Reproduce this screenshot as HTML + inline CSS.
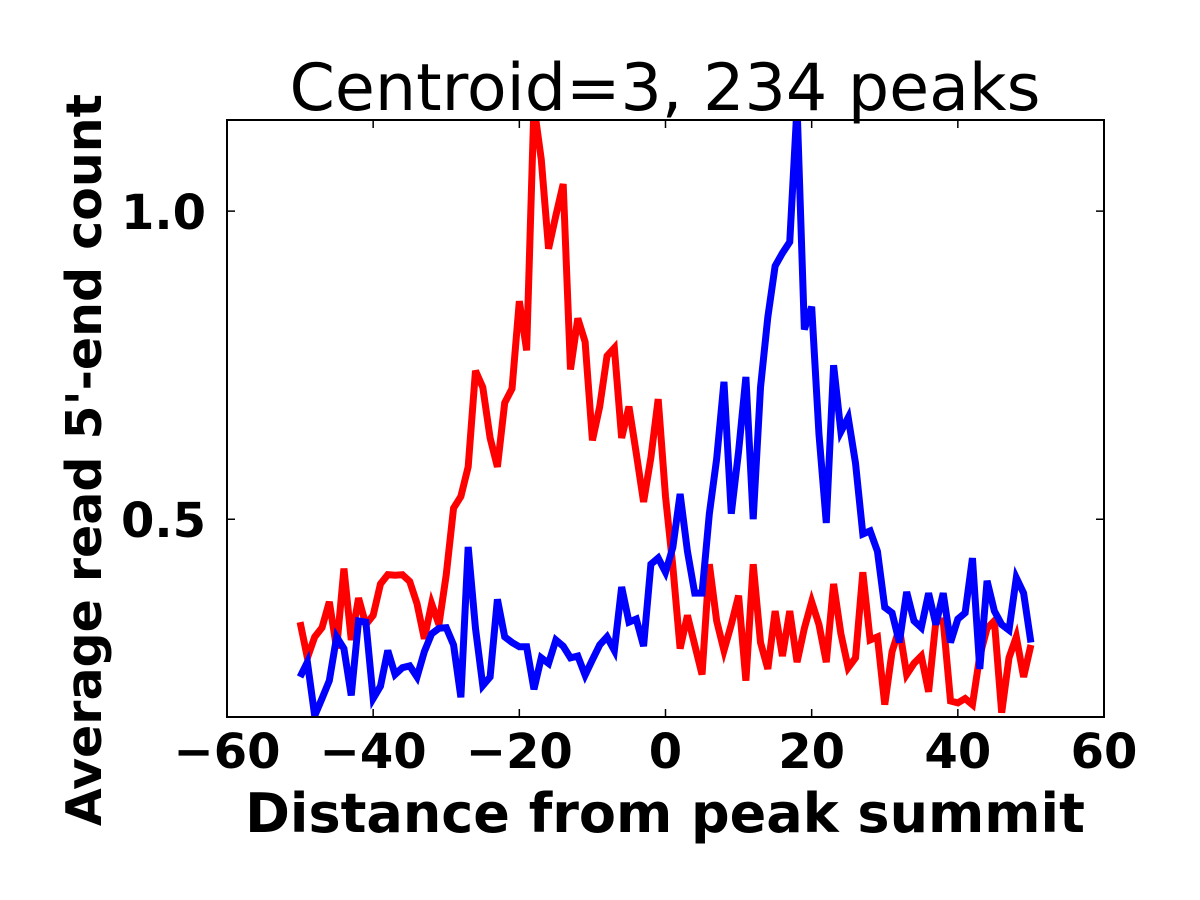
<!DOCTYPE html>
<html><head><meta charset="utf-8"><style>html,body{margin:0;padding:0;background:#fff;}svg{display:block;}</style></head>
<body>
<svg id="chart" width="1200" height="900" xmlns="http://www.w3.org/2000/svg" font-family="'DejaVu Sans', 'Liberation Sans', sans-serif">
<rect width="1200" height="900" fill="#fff"/>
<defs><clipPath id="clip"><rect x="227" y="120" width="877" height="597"/></clipPath></defs>
<text x="665" y="110" font-size="65" text-anchor="middle">Centroid=3, 234 peaks</text>
<g id="series" clip-path="url(#clip)"></g>
<rect x="227" y="120" width="877" height="597" fill="none" stroke="#000" stroke-width="2"/>
<g id="ticks"></g>
<text x="665" y="832" font-size="54" font-weight="bold" text-anchor="middle">Distance from peak summit</text>
<text transform="translate(101,460) rotate(-90)" font-size="49" font-weight="bold" text-anchor="middle">Average read 5'-end count</text>
</svg>
<script>
const xTicks = [-60, -40, -20, 0, 20, 40, 60];
const xTickLabels = ["\u221260", "\u221240", "\u221220", "0", "20", "40", "60"];
const yTicks = [0.5, 1.0];
const yTickLabels = ["0.5", "1.0"];
const positions = Array.from({length: 101}, (_, i) => i - 50);
const redValues = [.333,.275,.309,.324,.366,.290,.420,.304,.372,.329,.344,.395,.410,.409,.410,.399,.363,.306,.363,.329,.410,.518,.537,.585,.741,.714,.632,.585,.689,.712,.854,.774,1.171,1.084,.939,.993,1.044,.743,.826,.788,.628,.683,.765,.778,.632,.683,.607,.528,.600,.695,
.537,.424,.290,.344,.296,.248,.427,.335,.287,.329,.376,.238,.427,.300,.257,.351,.278,.351,.268,.323,.366,.329,.268,.395,.314,.259,.275,.414,.304,.309,.199,.285,.323,.248,.266,.278,.220,.335,.335,.205,.202,.209,.199,.278,.323,.335,.186,.275,.309,.244,.296];
const blueValues = [.244,.268,.181,.209,.238,.309,.290,.214,.335,.333,.209,.229,.287,.248,.259,.262,.244,.285,.314,.323,.324,.296,.211,.455,.323,.230,.244,.370,.309,.300,.293,.293,.224,.275,.266,.304,.294,.275,.278,.247,.272,.296,.309,.287,.390,.333,.338,.294,.427,.437,
.414,.454,.541,.448,.380,.380,.509,.598,.723,.509,.610,.731,.500,.714,.828,.911,.932,.950,1.171,.808,.845,.638,.494,.750,.642,.665,.591,.476,.481,.448,.357,.348,.300,.382,.335,.324,.380,.329,.380,.300,.338,.348,.437,.257,.400,.351,.329,.320,.405,.380,.300];

const X0 = 227, X1 = 1104, Y0 = 717, Y1 = 120;
const xMin = -60, xMax = 60, yMin = 0.179, yMax = 1.148;
const sx = v => X0 + (v - xMin) / (xMax - xMin) * (X1 - X0);
const sy = v => Y0 - (v - yMin) / (yMax - yMin) * (Y0 - Y1);
const NS = "http://www.w3.org/2000/svg";
const series = document.getElementById('series');
const ticks = document.getElementById('ticks');

function drawLine(vals, color, name) {
  const p = document.createElementNS(NS, 'polyline');
  p.setAttribute('points', vals.map((v, i) => sx(positions[i]) + ',' + sy(v)).join(' '));
  p.setAttribute('fill', 'none');
  p.setAttribute('stroke', color);
  p.setAttribute('stroke-width', '7');
  p.setAttribute('stroke-linejoin', 'miter');
  
  
  series.appendChild(p);
}
drawLine(redValues, '#ff0000', 'red-series-line');
drawLine(blueValues, '#0000ff', 'blue-series-line');

xTicks.forEach((t, i) => {
  const x = sx(t);
  const l1 = document.createElementNS(NS, 'path');
  l1.setAttribute('d', `M${x},${Y0}v-8M${x},${Y1}v8`);
  l1.setAttribute('stroke', '#000');
  l1.setAttribute('stroke-width', '1.5');
  
  
  ticks.appendChild(l1);
  const tx = document.createElementNS(NS, 'text');
  tx.setAttribute('x', x);
  tx.setAttribute('y', 768);
  tx.setAttribute('font-size', '48');
  tx.setAttribute('font-weight', 'bold');
  tx.setAttribute('text-anchor', 'middle');
  tx.textContent = xTickLabels[i];
  
  
  ticks.appendChild(tx);
});
yTicks.forEach((t, i) => {
  const y = sy(t);
  const l1 = document.createElementNS(NS, 'path');
  l1.setAttribute('d', `M${X0},${y}h8M${X1},${y}h-8`);
  l1.setAttribute('stroke', '#000');
  l1.setAttribute('stroke-width', '1.5');
  
  
  ticks.appendChild(l1);
  const tx = document.createElementNS(NS, 'text');
  tx.setAttribute('x', 206);
  tx.setAttribute('y', y + 18);
  tx.setAttribute('font-size', '48');
  tx.setAttribute('font-weight', 'bold');
  tx.setAttribute('text-anchor', 'end');
  tx.textContent = yTickLabels[i];
  
  
  ticks.appendChild(tx);
});
</script>
</body></html>
